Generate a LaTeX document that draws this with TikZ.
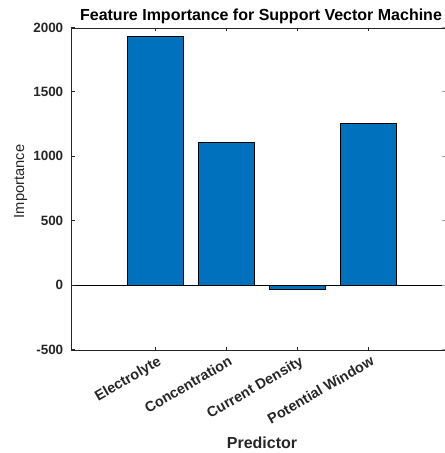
\documentclass[tikz,border=0pt]{standalone}
\usepackage{fontspec}
\setmainfont{Liberation Sans}
\definecolor{axgray}{HTML}{262626}
\definecolor{barblue}{HTML}{0072BD}
\tikzset{
  axisline/.style={draw=axgray, line width=0.7pt},
  tickmark/.style={draw=axgray, line width=0.6pt},
  ylab/.style={anchor=east, inner sep=0pt, text=axgray, font=\fontsize{10.1pt}{12pt}\selectfont\bfseries},
  xlab/.style={anchor=north east, inner sep=0pt, rotate=30, text=axgray, font=\fontsize{10.8pt}{12pt}\selectfont\bfseries},
  barrect/.style={fill=barblue, draw=black, line width=0.6pt},
}
\begin{document}
\begin{tikzpicture}[x=0.75pt, y=-0.75pt]
  % canvas (pixel coordinates, y pointing down)
  \fill[white] (0,0) rectangle (445,453);
  \useasboundingbox (0,0) rectangle (445,453);

  % data scope: x in px, y in importance units (zero at 285 px)
  \begin{scope}[shift={(0,285)}, yscale=-0.1288]
    % bars
    \foreach \cx/\v in {155.4/1928, 226.4/1108, 297.4/-33, 368.4/1255}
      \draw[barrect] (\cx-28.4,0) rectangle (\cx+28.4,\v);
    % baseline at zero
    \draw[black, line width=0.6pt] (71,0) -- (445,0);
    % y ticks and labels
    \foreach \v in {-500,0,500,1000,1500,2000} {
      \draw[tickmark] (71,\v) -- (74.5,\v);
      \draw[draw=axgray!45, line width=0.6pt] (442,\v) -- (445,\v);
      \node[ylab] (yt\v) at (63.5,\v) {\v};
    }
  \end{scope}

  % axes box (left, top, bottom)
  \draw[axisline] (445,28) -- (71,28) -- (71,350) -- (445,350);

  % x ticks and rotated category labels
  \foreach \cx/\lab/\nm in {155.4/Electrolyte/e, 226.4/Concentration/c, 297.4/Current Density/d, 368.4/Potential Window/p} {
    \draw[tickmark] (\cx,28) -- (\cx,31.5);
    \draw[tickmark] (\cx,350) -- (\cx,346.5);
    \node[xlab] (xt\nm) at (\cx+1.5,355) {\lab};
  }

  % title and axis labels
  \node[anchor=base, inner sep=0pt, font=\fontsize{12pt}{14pt}\selectfont\bfseries] (title) at (261,20.7)
    {Feature Importance for Support Vector Machine};
  \node[anchor=base, inner sep=0pt, text=axgray, font=\fontsize{12pt}{14pt}\selectfont\bfseries] (xlabel) at (262,448)
    {Predictor};
  \node[anchor=base, rotate=90, inner sep=0pt, text=axgray, font=\fontsize{11pt}{13pt}\selectfont] (ylabel) at (24,181.5)
    {Importance};
\end{tikzpicture}
\end{document}
